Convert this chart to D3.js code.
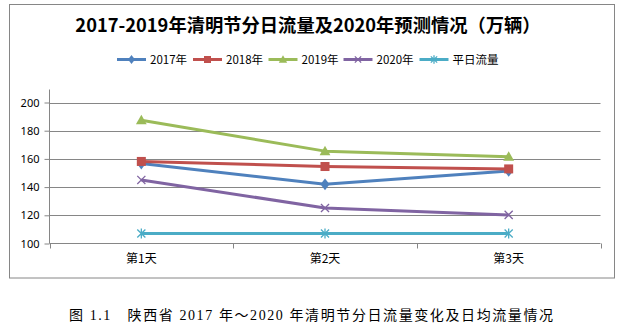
<!DOCTYPE html>
<html><head><meta charset="utf-8">
<script src="https://cdn.jsdelivr.net/npm/d3@7"></script>
<style>
html,body{margin:0;padding:0;background:#fff;}
svg{display:block;}
</style></head>
<body>
<svg id="c" width="629" height="330"></svg>
<script>
const categories = ["第1天", "第2天", "第3天"];
const seriesNames = ["2017年", "2018年", "2019年", "2020年", "平日流量"];
const v2017 = [156.7, 142.0, 151.5];
const v2018 = [158.2, 154.6, 152.9];
const v2019 = [187.4, 165.5, 161.6];
const v2020 = [145.1, 125.2, 120.3];
const vWeekday = [107.1, 107.1, 107.1];
const yTicks = [100, 120, 140, 160, 180, 200];
const titleText = "2017-2019年清明节分日流量及2020年预测情况（万辆）";
const captionText = "图 1.1　陕西省 2017 年～2020 年清明节分日流量变化及日均流量情况";

const colors = ["#4F81BD", "#C0504D", "#9BBB59", "#8064A2", "#4BACC6"];
const markers = ["diamond", "square", "triangle", "x", "star"];
const seriesValues = [v2017, v2018, v2019, v2020, vWeekday];

const svg = d3.select("#c");
const plot = {left: 49.5, right: 600.5, top: 89.5, bottom: 243.5};

// outer border
svg.append("rect").attr("x", 9.5).attr("y", 4.5).attr("width", 605).attr("height", 273.5)
  .attr("fill", "#fff").attr("stroke", "#868686").attr("stroke-width", 1);

// title
svg.append("text").attr("x", 308).attr("y", 32)
  .attr("text-anchor", "middle")
  .attr("font-family", "'Noto Sans CJK SC', sans-serif")
  .attr("font-weight", "bold").attr("font-size", 18.3)
  .attr("fill", "#000").text(titleText);

const x = d3.scaleBand().domain(categories).range([plot.left, plot.right]);
const y = d3.scaleLinear().domain([100, 200]).range([plot.bottom, 102.5]);

// gridlines
const g = svg.append("g");
g.selectAll("line.grid").data(yTicks.filter(t => t !== 100)).join("line")
  .attr("x1", plot.left).attr("x2", plot.right)
  .attr("y1", d => Math.round(y(d)) + 0.5).attr("y2", d => Math.round(y(d)) + 0.5)
  .attr("stroke", "#868686").attr("stroke-width", 1);

// y axis
const yAxis = d3.axisLeft(y).tickValues(yTicks).tickSize(5).tickPadding(5);
const ya = svg.append("g").attr("transform", `translate(${plot.left},0)`).call(yAxis);
ya.select(".domain").remove();
ya.selectAll(".tick line").attr("stroke", "#868686");
ya.selectAll(".tick text").attr("font-family", "'Noto Sans', 'Liberation Sans', sans-serif")
  .attr("font-size", 11).attr("fill", "#000");
svg.append("line").attr("x1", plot.left).attr("x2", plot.left)
  .attr("y1", plot.top).attr("y2", plot.bottom)
  .attr("stroke", "#868686");

// x axis
const xa = svg.append("g").attr("transform", `translate(0,${plot.bottom})`);
xa.append("line").attr("x1", plot.left).attr("x2", plot.right).attr("y1", 0).attr("y2", 0).attr("stroke", "#868686");
const bounds = categories.map(c => x(c)).concat([x(categories[categories.length - 1]) + x.bandwidth()]);
xa.selectAll("line.tk").data(bounds).join("line").attr("class", "tk")
  .attr("x1", d => Math.round(d) + 0.5).attr("x2", d => Math.round(d) + 0.5)
  .attr("y1", 0).attr("y2", 5).attr("stroke", "#868686");
xa.selectAll("text").data(categories).join("text")
  .attr("x", d => x(d) + x.bandwidth() / 2).attr("y", 19)
  .attr("text-anchor", "middle")
  .attr("font-family", "'Noto Sans CJK SC', sans-serif").attr("font-size", 12)
  .attr("fill", "#000").text(d => d);

function drawMarker(sel, type, color, cx, cy, s) {
  if (type === "diamond") {
    sel.append("path").attr("d", `M${cx},${cy - s * 0.65}L${cx + s * 0.5},${cy}L${cx},${cy + s * 0.65}L${cx - s * 0.5},${cy}Z`).attr("fill", color);
  } else if (type === "square") {
    sel.append("rect").attr("x", cx - s / 2).attr("y", cy - s / 2).attr("width", s).attr("height", s).attr("fill", color);
  } else if (type === "triangle") {
    sel.append("path").attr("d", `M${cx},${cy - s * 0.6}L${cx + s * 0.6},${cy + s * 0.45}L${cx - s * 0.6},${cy + s * 0.45}Z`).attr("fill", color);
  } else if (type === "x") {
    const h = s * 0.45;
    sel.append("path").attr("d", `M${cx - h},${cy - h}L${cx + h},${cy + h}M${cx - h},${cy + h}L${cx + h},${cy - h}`)
      .attr("stroke", color).attr("stroke-width", 1.3).attr("fill", "none");
  } else if (type === "star") {
    const h = s * 0.45;
    sel.append("path").attr("d", `M${cx - h},${cy - h}L${cx + h},${cy + h}M${cx - h},${cy + h}L${cx + h},${cy - h}M${cx},${cy - h - 1}L${cx},${cy + h + 1}`)
      .attr("stroke", color).attr("stroke-width", 1.3).attr("fill", "none");
  }
}

// series lines
const line = d3.line().x((d, i) => x(categories[i]) + x.bandwidth() / 2).y(d => y(d));
seriesValues.forEach((vals, si) => {
  const sg = svg.append("g");
  sg.append("path").datum(vals).attr("d", line).attr("fill", "none")
    .attr("stroke", colors[si]).attr("stroke-width", 3).attr("stroke-linejoin", "round");
});
seriesValues.forEach((vals, si) => {
  const mg = svg.append("g");
  vals.forEach((v, i) => {
    drawMarker(mg, markers[si], colors[si], x(categories[i]) + x.bandwidth() / 2, y(v), 9);
  });
});

// legend
const legendX = [117, 193, 268.5, 343.5, 419.5];
const legY = 59.5;
const lg = svg.append("g");
seriesNames.forEach((name, i) => {
  const lx = legendX[i];
  lg.append("line").attr("x1", lx).attr("x2", lx + 29).attr("y1", legY).attr("y2", legY)
    .attr("stroke", colors[i]).attr("stroke-width", 3);
  drawMarker(lg, markers[i], colors[i], lx + 14.5, legY, 7);
  lg.append("text").attr("x", lx + 33).attr("y", legY + 4)
    .attr("font-family", "'Noto Sans CJK SC', sans-serif").attr("font-size", 11.5)
    .attr("fill", "#000").text(name);
});

// caption
svg.append("text").attr("x", 69).attr("y", 320)
  .attr("font-family", "'Liberation Serif', 'Noto Sans CJK SC', serif")
  .attr("font-size", 14).attr("fill", "#000")
  .attr("textLength", 484).attr("lengthAdjust", "spacing")
  .text(captionText);
</script>
</body></html>
